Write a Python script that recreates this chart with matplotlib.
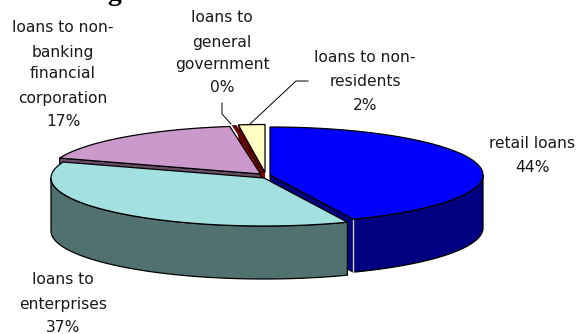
#!/usr/bin/env python3
# -*- coding: utf-8 -*-
import numpy as np
import matplotlib
matplotlib.use('Agg')
import matplotlib.pyplot as plt
from matplotlib.patches import Polygon


# loan shares in percent, clockwise from twelve o'clock
shares = [43.6, 36.8, 17.3, 0.3, 2.0]
names = ['retail loans', 'loans to\nenterprises',
         'loans to non-\nbanking\nfinancial\ncorporation',
         'loans to\ngeneral\ngovernment', 'loans to non-\nresidents']

top_colors = ['#0000ff', '#a3e0e0', '#cc99cc', '#800000', '#ffffc4']
wall_colors = ['#000080', '#517070', '#664c66', '#800000', '#808060']

# slice apex on the page, pulled apart a little
apex = [(270, 175), (264, 178), (260.5, 174), (263, 173), (265, 172.5)]
rx, ry = 213, 48
depth = 53

# label line centres: x, y of each line
label_x = [532, 63, 63, 222, 365]
label_y = [[144, 168], [280, 305, 328], [28, 53, 74, 98, 121],
           [17, 42, 65, 88], [58, 81, 105]]

heading = 'Share of growth in the subset of loans'

fig = plt.figure(figsize=(5.77, 3.34), dpi=100)
ax = fig.add_axes([0, 0, 1, 1])
ax.set_xlim(0, 577)
ax.set_ylim(334, 0)
ax.axis('off')


def rim(i, a0, a1, n=80):
    # points on the ellipse, angles in degrees clockwise from the top
    t = np.radians(np.linspace(a0, a1, n))
    return np.column_stack([apex[i][0] + rx * np.sin(t), apex[i][1] - ry * np.cos(t)])


def cut_face(i, angle, color, lw=0.8):
    # flat side of a slice, hanging below the edge from apex to rim
    p = rim(i, angle, angle, 1)[0]
    c = np.array(apex[i], float)
    ax.add_patch(Polygon([c, p, p + down, c + down], fc=color, ec='k', lw=lw, zorder=1))


edges = np.concatenate([[0], np.cumsum(shares)]) * 3.6
down = np.array([0, depth])

# cut faces: the red side next to the cream slice, pink start, retail end
cut_face(4, edges[4], wall_colors[3], lw=0)
cut_face(2, edges[2], wall_colors[2])
cut_face(0, edges[1], wall_colors[0])

# outer walls of the two front slices
for i, a0, a1 in [(0, 90, edges[1]), (1, edges[1], 270)]:
    arc = rim(i, a0, a1)
    ax.add_patch(Polygon(np.vstack([arc, arc[::-1] + down]), fc=wall_colors[i], ec='k', lw=0.9, zorder=2))

# light seam between the retail cut face and its outer wall
p = rim(0, edges[1], edges[1], 1)[0]
ax.plot([p[0], p[0]], [p[1], p[1] + depth], color='#d0d0d0', lw=1, zorder=3)

# top faces, back slices first
for i in [2, 3, 4, 0, 1]:
    pts = np.vstack([[apex[i]], rim(i, edges[i], edges[i + 1])])
    lw = 0.4 if i == 3 else 0.9
    ax.add_patch(Polygon(pts, fc=top_colors[i], ec='k', lw=lw, zorder=4 + i / 10))

# labels, each line set on its own height
for name, share, x, ys in zip(names, shares, label_x, label_y):
    lines = name.split('\n') + ['{:.0f}%'.format(share)]
    for line, y in zip(lines, ys):
        ax.text(x, y, line, ha='center', va='center', fontsize=11.2, family='DejaVu Sans', color='#1a1a1a')

# leader lines for the two narrow slices
ax.plot([222, 222, 231], [103, 114, 124], color='k', lw=0.7, zorder=3)
ax.plot([250, 296, 308], [124, 81, 81], color='k', lw=0.7, zorder=3)

# heading runs off the top of the page, only its lowest parts show
ax.text(2, 0, heading, ha='left', va='baseline', fontsize=20, family='Liberation Serif',
        weight='bold', color='k', clip_on=False)

fig.savefig('out.png', dpi=100)
